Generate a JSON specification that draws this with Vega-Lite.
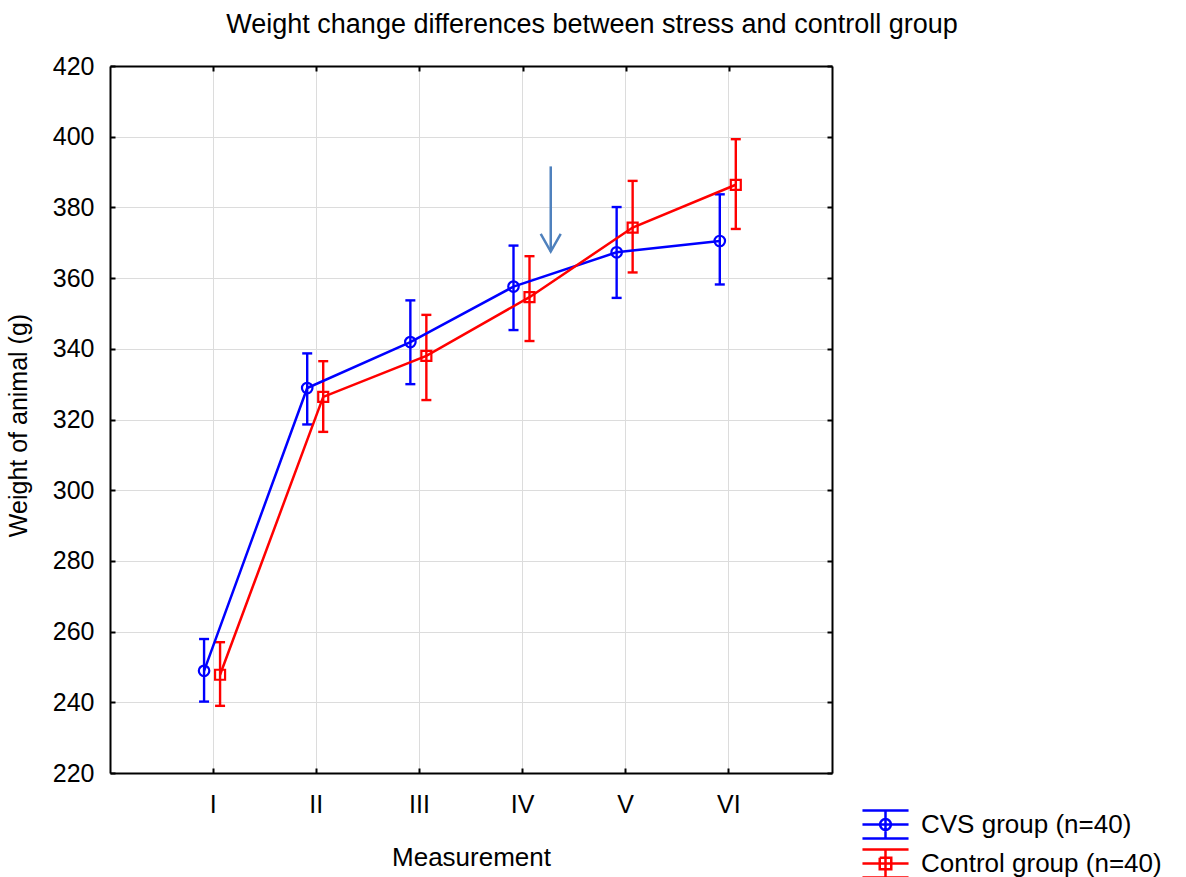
{
  "$schema": "https://vega.github.io/schema/vega-lite/v6.json",
  "autosize": {"type": "none"},
  "width": 722,
  "height": 707,
  "padding": {"left": 110, "top": 66, "right": 354, "bottom": 104},
  "background": "white",
  "config": {
    "font": "Liberation Sans",
    "view": {"stroke": null},
    "axis": {
      "domainColor": "black",
      "domainWidth": 2,
      "tickColor": "black",
      "tickWidth": 2,
      "tickSize": -5,
      "gridColor": "#DCDCDC",
      "gridWidth": 1,
      "labelFont": "Liberation Sans",
      "labelFontSize": 25,
      "labelColor": "black",
      "titleFont": "Liberation Sans",
      "titleFontSize": 25,
      "titleFontWeight": "normal",
      "titleColor": "black"
    }
  },
  "title": {
    "text": "Weight change differences between stress and controll group",
    "font": "Liberation Sans",
    "fontSize": 27,
    "fontWeight": "normal",
    "color": "black",
    "anchor": "middle",
    "frame": "group",
    "dx": 121,
    "offset": 15
  },
  "datasets": {
    "means": [
      {"m": "I", "group": "CVS group (n=40)", "mean": 248.9, "lo": 240.2, "hi": 257.9},
      {"m": "II", "group": "CVS group (n=40)", "mean": 328.9, "lo": 318.6, "hi": 338.7},
      {"m": "III", "group": "CVS group (n=40)", "mean": 341.9, "lo": 330.0, "hi": 353.7},
      {"m": "IV", "group": "CVS group (n=40)", "mean": 357.6, "lo": 345.3, "hi": 369.2},
      {"m": "V", "group": "CVS group (n=40)", "mean": 367.3, "lo": 354.4, "hi": 380.1},
      {"m": "VI", "group": "CVS group (n=40)", "mean": 370.5, "lo": 358.2, "hi": 383.7},
      {"m": "I", "group": "Control group (n=40)", "mean": 247.8, "lo": 239.0, "hi": 257.0},
      {"m": "II", "group": "Control group (n=40)", "mean": 326.4, "lo": 316.5, "hi": 336.5},
      {"m": "III", "group": "Control group (n=40)", "mean": 338.0, "lo": 325.5, "hi": 349.6},
      {"m": "IV", "group": "Control group (n=40)", "mean": 354.6, "lo": 342.2, "hi": 366.2},
      {"m": "V", "group": "Control group (n=40)", "mean": 374.3, "lo": 361.6, "hi": 387.5},
      {"m": "VI", "group": "Control group (n=40)", "mean": 386.4, "lo": 373.9, "hi": 399.3}
    ],
    "legendrows": [
      {"group": "CVS group (n=40)"},
      {"group": "Control group (n=40)"}
    ],
    "arrow": [
      {"part": "shaft", "k": 1, "x": 4.273, "y": 391.6},
      {"part": "shaft", "k": 2, "x": 4.273, "y": 367.5},
      {"part": "head", "k": 1, "x": 4.176, "y": 372.5},
      {"part": "head", "k": 2, "x": 4.273, "y": 367.5},
      {"part": "head", "k": 3, "x": 4.37, "y": 372.5}
    ]
  },
  "layer": [
    {
      "data": {"name": "means"},
      "encoding": {
        "x": {
          "field": "m",
          "type": "ordinal",
          "scale": {"type": "band", "domain": ["I", "II", "III", "IV", "V", "VI"], "paddingInner": 0, "paddingOuter": 0.5},
          "axis": {"orient": "bottom", "grid": true, "bandPosition": 0.5, "labelAngle": 0, "labelPadding": 24, "title": "Measurement", "titlePadding": 27, "titleFontSize": 26}
        },
        "xOffset": {
          "field": "group",
          "type": "nominal",
          "scale": {"type": "band", "domain": ["CVS group (n=40)", "Control group (n=40)"], "range": [34.5, 66.5], "paddingInner": 0, "paddingOuter": 0}
        }
      },
      "layer": [
        {
          "mark": {"type": "rule", "strokeWidth": 2.4},
          "encoding": {
            "y": {"field": "lo", "type": "quantitative", "scale": {"domain": [220, 420], "nice": false, "zero": false},
              "axis": {"orient": "left", "grid": true, "values": [220, 240, 260, 280, 300, 320, 340, 360, 380, 400, 420], "labelPadding": 21, "title": "Weight of animal (g)", "titlePadding": 21, "titleY": 359}},
            "y2": {"field": "hi"},
            "color": {"field": "group", "type": "nominal", "scale": {"domain": ["CVS group (n=40)", "Control group (n=40)"], "range": ["#0000FF", "#FF0000"]}}
          }
        },
        {
          "mark": {"type": "tick", "orient": "horizontal", "size": 10, "thickness": 2.4, "opacity": 1},
          "encoding": {
            "y": {"field": "lo", "type": "quantitative"},
            "fill": {"field": "group", "type": "nominal", "scale": {"domain": ["CVS group (n=40)", "Control group (n=40)"], "range": ["#0000FF", "#FF0000"]}, "legend": null}
          }
        },
        {
          "mark": {"type": "tick", "orient": "horizontal", "size": 10, "thickness": 2.4, "opacity": 1},
          "encoding": {
            "y": {"field": "hi", "type": "quantitative"},
            "fill": {"field": "group", "type": "nominal", "scale": {"domain": ["CVS group (n=40)", "Control group (n=40)"], "range": ["#0000FF", "#FF0000"]}, "legend": null}
          }
        },
        {
          "mark": {"type": "line", "strokeWidth": 2.5},
          "encoding": {
            "y": {"field": "mean", "type": "quantitative"},
            "color": {"field": "group", "type": "nominal", "scale": {"domain": ["CVS group (n=40)", "Control group (n=40)"], "range": ["#0000FF", "#FF0000"]}}
          }
        },
        {
          "transform": [{"filter": "datum.group === 'CVS group (n=40)'"}],
          "mark": {"type": "point", "shape": "circle", "filled": false, "size": 110, "strokeWidth": 2.2, "opacity": 1},
          "encoding": {
            "y": {"field": "mean", "type": "quantitative"},
            "color": {"field": "group", "type": "nominal", "scale": {"domain": ["CVS group (n=40)", "Control group (n=40)"], "range": ["#0000FF", "#FF0000"]}}
          }
        },
        {
          "transform": [{"filter": "datum.group === 'Control group (n=40)'"}],
          "mark": {"type": "point", "shape": "square", "filled": false, "size": 100, "strokeWidth": 2.2, "opacity": 1},
          "encoding": {
            "y": {"field": "mean", "type": "quantitative"},
            "color": {"field": "group", "type": "nominal", "scale": {"domain": ["CVS group (n=40)", "Control group (n=40)"], "range": ["#0000FF", "#FF0000"]}}
          }
        }
      ]
    },
    {
      "data": {"name": "legendrows"},
      "mark": {"type": "point", "filled": false, "opacity": 0},
      "encoding": {
        "color": {
          "field": "group",
          "type": "nominal",
          "scale": {"domain": ["CVS group (n=40)", "Control group (n=40)"], "range": ["#0000FF", "#FF0000"]},
          "legend": {"orient": "none", "legendX": 756, "legendY": 739, "padding": 0, "title": null, "labelFontSize": 26, "labelFont": "Liberation Sans", "labelColor": "black", "labelOffset": 16, "symbolSize": 1296, "symbolStrokeWidth": 2.5, "symbolOpacity": 1, "symbolFillColor": "transparent", "rowPadding": -2, "labelLimit": 400,
            "encode": {"symbols": {"update": {"fill": {"value": "transparent"}, "opacity": {"value": 1}, "strokeWidth": {"value": 2.5}}}}}
        },
        "shape": {
          "field": "group",
          "type": "nominal",
          "scale": {"domain": ["CVS group (n=40)", "Control group (n=40)"], "range": [
            "M-1.28,-0.78H1.28M-1.28,0H1.28M-1.28,0.78H1.28M0,-0.78V0.78M-0.3,0A0.3,0.3,0,1,1,0.3,0A0.3,0.3,0,1,1,-0.3,0A0.3,0.3,0,1,0,0.3,0A0.3,0.3,0,1,0,-0.3,0",
            "M-1.28,-0.78H1.28M-1.28,0H1.28M-1.28,0.78H1.28M0,-0.78V0.78M-0.32,-0.32H0.32V0.32H-0.32V-0.32V0.32H0.32V-0.32H-0.32"
          ]},
          "legend": {"orient": "none", "legendX": 756, "legendY": 739, "padding": 0, "title": null, "labelFontSize": 26, "labelFont": "Liberation Sans", "labelColor": "black", "labelOffset": 16, "symbolSize": 1296, "symbolStrokeWidth": 2.5, "symbolOpacity": 1, "symbolFillColor": "transparent", "rowPadding": -2, "labelLimit": 400,
            "encode": {"symbols": {"update": {"fill": {"value": "transparent"}, "opacity": {"value": 1}, "strokeWidth": {"value": 2.5}}}}}
        }
      }
    },
    {
      "data": {"name": "arrow"},
      "mark": {"type": "line", "color": "#4F81BD", "strokeWidth": 2.5},
      "encoding": {
        "x": {"field": "x", "type": "quantitative", "scale": {"domain": [0, 7], "nice": false, "zero": false},
          "axis": {"orient": "top", "values": [1, 2, 3, 4, 5, 6], "labels": false, "grid": false, "title": null}},
        "y": {"field": "y", "type": "quantitative", "scale": {"domain": [220, 420], "nice": false, "zero": false},
          "axis": {"orient": "right", "values": [220, 240, 260, 280, 300, 320, 340, 360, 380, 400, 420], "labels": false, "grid": false, "title": null}},
        "detail": {"field": "part", "type": "nominal"},
        "order": {"field": "k", "type": "quantitative"}
      }
    }
  ],
  "resolve": {"scale": {"x": "independent"}, "axis": {"y": "independent"}}
}
